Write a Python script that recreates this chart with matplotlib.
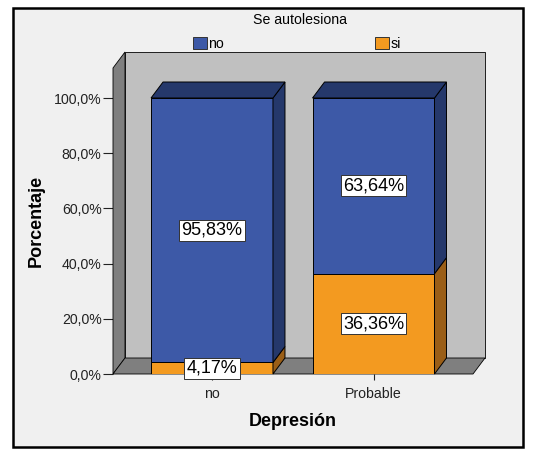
import numpy as np
import matplotlib
matplotlib.use('Agg')
import matplotlib.pyplot as plt
from matplotlib.patches import Rectangle, Polygon

plt.rcParams['font.family'] = ['Liberation Sans', 'DejaVu Sans']

# data
categories = ['no', 'Probable']
series_names = ['no', 'si']
no_vals = [95.83, 63.64]
si_vals = [4.17, 36.36]
yticks = [0, 20, 40, 60, 80, 100]
ytick_labels = ['0,0%', '20,0%', '40,0%', '60,0%', '80,0%', '100,0%']

blue, blue_dark = '#3D59A7', '#25386B'
orange, orange_dark = '#F39A20', '#9A5E17'

W, H = 534, 459
fig = plt.figure(figsize=(W / 100, H / 100), dpi=100)
fig.patch.set_facecolor('white')

# outer frame (behind the axes)
fig.patches.append(Rectangle((13 / W, (H - 447) / H), (523 - 13) / W, (447 - 8) / H,
                             transform=fig.transFigure, facecolor='#F0F0F0',
                             edgecolor='black', lw=1.8, zorder=-5))

# axes = front plane of the 3d box
ax = fig.add_axes([113 / W, (H - 374) / H, 360 / W, 306 / H])
ax.patch.set_visible(False)
for s in ax.spines.values():
    s.set_visible(False)

x0, x1 = -0.613, 1.616
ytop = 110.87
ax.set_xlim(x0, x1)
ax.set_ylim(0, ytop)

# depth offsets (12 px right, 16 px up) in data units
dx = 12 / 161.5
dy = 16 / 2.76

# back wall, left wall, floor
ax.add_patch(Rectangle((x0 + dx, dy), x1 - x0, ytop, facecolor='#C0C0C0',
                       edgecolor='black', lw=0.6, zorder=1, clip_on=False))
ax.add_patch(Polygon([(x0, 0), (x0 + dx, dy), (x0 + dx, ytop + dy), (x0, ytop)],
                     closed=True, facecolor='#7F7F7F', edgecolor='black', lw=0.6,
                     zorder=2, clip_on=False))
ax.add_patch(Polygon([(x0, 0), (x1, 0), (x1 + dx, dy), (x0 + dx, dy)],
                     closed=True, facecolor='#7F7F7F', edgecolor='black', lw=0.6,
                     zorder=2, clip_on=False))

# stacked 3d bars
xpos = np.arange(len(categories))
width = 0.755
bottom = np.zeros(len(categories))
stack = [(si_vals, orange, orange_dark), (no_vals, blue, blue_dark)]
for k, (vals, c, cdark) in enumerate(stack):
    ax.bar(xpos, vals, width, bottom=bottom, color=c, edgecolor='black',
           lw=0.7, zorder=3 + k)
    for i, v in enumerate(vals):
        xl, xr = xpos[i] - width / 2, xpos[i] + width / 2
        b = bottom[i]
        ax.add_patch(Polygon([(xr, b), (xr + dx, b + dy), (xr + dx, b + v + dy), (xr, b + v)],
                             closed=True, facecolor=cdark, edgecolor='black', lw=0.7,
                             zorder=3 + k, clip_on=False))
        if k == len(stack) - 1:
            t = b + v
            ax.add_patch(Polygon([(xl, t), (xr, t), (xr + dx, t + dy), (xl + dx, t + dy)],
                                 closed=True, facecolor=cdark, edgecolor='black', lw=0.7,
                                 zorder=3 + k, clip_on=False))
    bottom = bottom + np.array(vals)

# value labels
bottom = np.zeros(len(categories))
for vals in [si_vals, no_vals]:
    for i, v in enumerate(vals):
        ax.text(xpos[i], bottom[i] + v / 2, ('%.2f%%' % v).replace('.', ','),
                ha='center', va='center', fontsize=13, zorder=10,
                bbox=dict(boxstyle='square,pad=0.12', fc='white', ec='#333333', lw=0.7))
    bottom = bottom + np.array(vals)

# ticks
ax.set_yticks(yticks)
ax.set_yticklabels(ytick_labels)
ax.tick_params(axis='y', length=7.2, width=0.8, pad=1, labelsize=10.2, colors='#222222')
ax.set_xticks(xpos)
ax.set_xticklabels(categories)
ax.tick_params(axis='x', length=4.3, width=0.8, pad=5, labelsize=10.2, colors='#222222')

# axis titles
fig.text(36 / W, 1 - 221 / H, 'Porcentaje', rotation=90, ha='center', va='center',
         fontsize=13, fontweight='bold')
fig.text(293 / W, 1 - 421 / H, 'Depresión', ha='center', va='center',
         fontsize=13, fontweight='bold')

# legend
fig.text(300 / W, 1 - 20 / H, 'Se autolesiona', ha='center', va='center', fontsize=10.2)
handles = [Rectangle((0, 0), 1, 1, facecolor=blue, edgecolor='#333333', lw=0.7),
           Rectangle((0, 0), 1, 1, facecolor=orange, edgecolor='#333333', lw=0.7)]
leg = fig.legend(handles, series_names, ncol=2, frameon=False,
                 loc='center', bbox_to_anchor=(297 / W, 1 - 44 / H),
                 fontsize=10.2, handlelength=0.95, handleheight=0.95,
                 handletextpad=0.1, columnspacing=10.7, borderpad=0, labelspacing=0)

fig.savefig('out.png', dpi=100, facecolor=fig.get_facecolor())
